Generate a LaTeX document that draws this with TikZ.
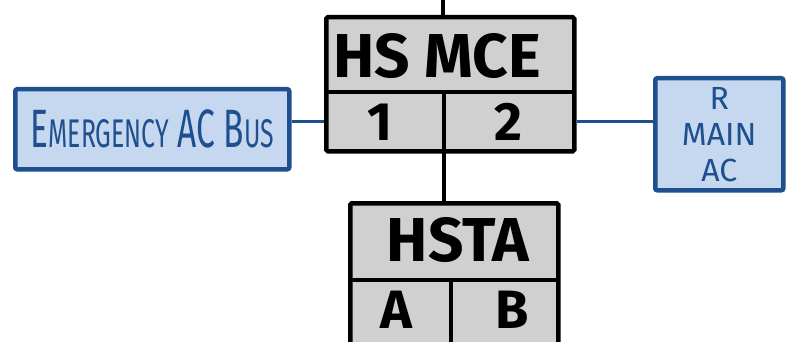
\documentclass[tikz,border=0pt]{standalone}
\usepackage{fontspec}
\setmainfont{Fira Sans}
\definecolor{bluefill}{HTML}{C6D8EF}
\definecolor{blueline}{HTML}{1E4F8E}
\definecolor{grayfill}{HTML}{D0D0D0}
\tikzset{
  graybox/.style={draw=black,line width=4.5pt,fill=grayfill,rounded corners=1.5pt},
  divline/.style={draw=black,line width=4pt},
  bluebox/.style={draw=blueline,line width=4.5pt,fill=bluefill,rounded corners=2pt,text=blueline,align=center},
  blackwire/.style={draw=black,line width=3.5pt},
  bluewire/.style={draw=blueline,line width=3pt},
  bigtxt/.style={font=\fontsize{62}{62}\selectfont\bfseries},
  celltxt/.style={font=\fontsize{54}{54}\selectfont\bfseries}
}
\newcommand{\fsc}[2]{{\fontsize{54}{54}\selectfont #1}{\fontsize{40}{40}\selectfont #2}}
\begin{document}
\begin{tikzpicture}[x=1pt,y=-1pt]
\useasboundingbox (0,0) rectangle (786,342);
% HS MCE box
\node[graybox,minimum width=248pt,minimum height=134pt,anchor=north west,inner sep=0pt] (mce) at (324,15) {};
\coordinate (mceL) at (324,92);
\coordinate (mceR) at (572,92);
\coordinate (mceT) at (444,92);
\coordinate (mceB) at (444,148);
\draw[divline] (mceL) -- (mceR);
\draw[divline] (mceT) -- (mceB);
\node[bigtxt] (mcelbl) at (437,56) {HS MCE};
\node[celltxt] (c1) at (380,122) {1};
\node[celltxt] (c2) at (508,122) {2};
% top wire
\coordinate (topend) at (443,0);
\draw[blackwire] (topend) -- (mce.north -| topend);
% HSTA box
\node[graybox,minimum width=208pt,minimum height=142pt,anchor=north west,inner sep=0pt] (hsta) at (348,201) {};
\coordinate (hL) at (348,280);
\coordinate (hR) at (556,280);
\coordinate (hT) at (451,280);
\coordinate (hB) at (451,343);
\draw[divline] (hL) -- (hR);
\draw[divline] (hT) -- (hB);
\node[bigtxt] (hstalbl) at (458,240) {HSTA};
\node[celltxt] (ca) at (396,310) {A};
\node[celltxt] (cb) at (512,310) {B};
% vertical wire between boxes
\draw[blackwire] (mceB) -- (hsta.north -| mceB);
% Emergency AC Bus
\node[bluebox,minimum width=274pt,minimum height=80pt,anchor=north west,inner sep=0pt] (emer) at (13,87) {\scalebox{0.62}[1]{\fsc{E}{MERGENCY}\hspace{14pt}\fsc{AC}{}\hspace{14pt}\fsc{B}{US}}};
% R MAIN AC
\node[bluebox,minimum width=128pt,minimum height=112pt,anchor=north west,inner sep=0pt,font=\fontsize{32}{36}\selectfont] (rmain) at (653,76) {R\\MAIN\\AC};
% blue wires
\draw[bluewire] (emer.east |- 0,121) -- (mce.west |- 0,121);
\draw[bluewire] (mce.east |- 0,121) -- (rmain.west |- 0,121);
\end{tikzpicture}
\end{document}
